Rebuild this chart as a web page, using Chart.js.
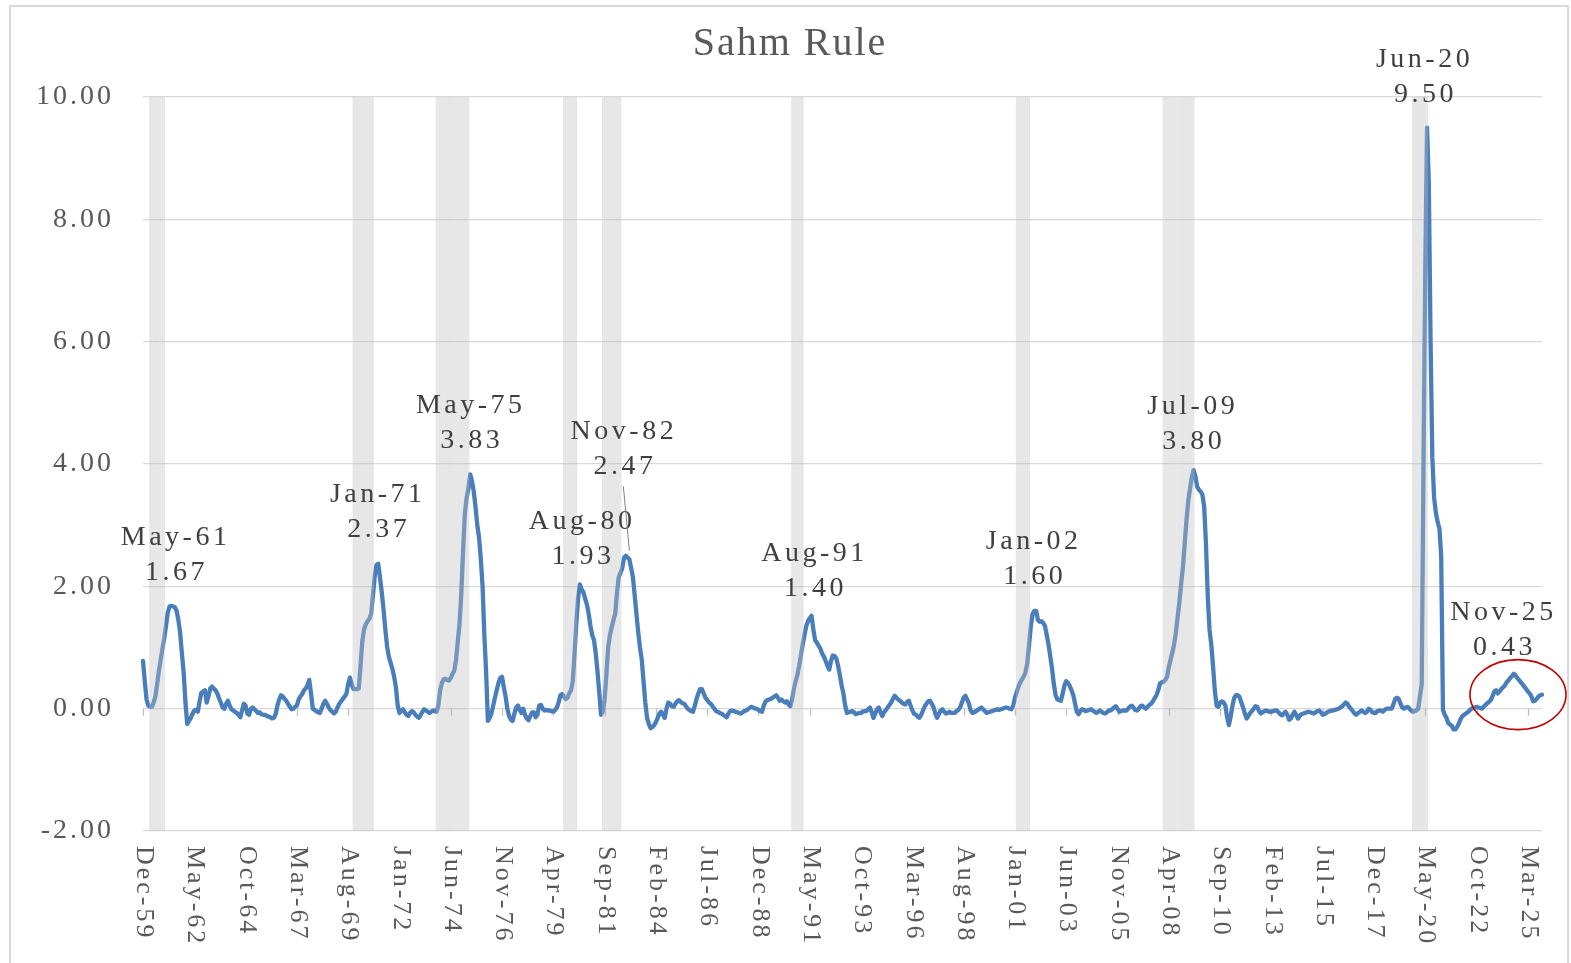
<!DOCTYPE html>
<html>
<head>
<meta charset="utf-8">
<script src="https://cdn.jsdelivr.net/npm/chart.js@4.4.1/dist/chart.umd.min.js"></script>
<style>
html,body{margin:0;padding:0;background:#ffffff;}
canvas{display:block;}
</style>
</head>
<body>
<canvas id="c" width="1571" height="963"></canvas>
<script>
// ---------------- DATA ----------------
const chartTitle = 'Sahm Rule';
const firstMonth = { year: 1959, month: 11 }; // Dec-59

// Monthly Sahm rule values, Dec-59 .. Nov-25 (one row per calendar year)
const sahmValues = [
  0.78,
  0.45, 0.15, 0.05, 0.03, 0.03, 0.10, 0.20, 0.40, 0.62, 0.80, 0.98, 1.15,
  1.35, 1.57, 1.67, 1.68, 1.67, 1.66, 1.60, 1.45, 1.24, 0.90, 0.59, 0.10,
  -0.25, -0.20, -0.15, -0.08, -0.03, -0.02, -0.05, 0.12, 0.26, 0.28, 0.30, 0.10,
  0.20, 0.33, 0.36, 0.33, 0.30, 0.25, 0.17, 0.10, 0.02, 0.00, 0.08, 0.13,
  0.05, -0.01, -0.03, -0.05, -0.07, -0.10, -0.14, -0.03, 0.08, 0.05, -0.08, -0.10,
  0.00, 0.02, -0.01, -0.04, -0.07, -0.06, -0.09, -0.10, -0.10, -0.12, -0.13, -0.14,
  -0.16, -0.15, -0.09, 0.05, 0.15, 0.22, 0.20, 0.16, 0.13, 0.08, 0.03, -0.01,
  0.00, 0.03, 0.05, 0.15, 0.20, 0.24, 0.30, 0.33, 0.38, 0.47, 0.25, 0.00,
  -0.02, -0.04, -0.06, -0.07, 0.00, 0.08, 0.13, 0.08, 0.02, -0.02, -0.05, -0.08,
  -0.05, 0.02, 0.08, 0.12, 0.16, 0.20, 0.24, 0.40, 0.51, 0.40, 0.32, 0.32,
  0.32, 0.33, 0.70, 1.10, 1.30, 1.38, 1.43, 1.47, 1.55, 1.85, 2.15, 2.35,
  2.37, 2.15, 1.90, 1.62, 1.30, 1.02, 0.85, 0.75, 0.65, 0.52, 0.35, 0.05,
  -0.07, -0.03, -0.01, -0.06, -0.10, -0.12, -0.07, -0.04, -0.06, -0.10, -0.13, -0.15,
  -0.10, -0.05, -0.01, -0.03, -0.05, -0.07, -0.05, -0.03, -0.04, -0.05, 0.05, 0.30,
  0.42, 0.48, 0.49, 0.47, 0.46, 0.50, 0.57, 0.62, 0.80, 1.10, 1.40, 1.90,
  2.60, 3.20, 3.45, 3.60, 3.83, 3.72, 3.55, 3.30, 3.00, 2.80, 2.45, 2.00,
  1.20, 0.60, -0.20, -0.15, -0.08, 0.05, 0.18, 0.30, 0.42, 0.50, 0.52, 0.35,
  0.20, 0.00, -0.12, -0.18, -0.20, -0.08, 0.02, 0.05, -0.02, -0.07, 0.00, -0.10,
  -0.16, -0.19, -0.12, -0.06, -0.06, -0.14, -0.10, 0.05, 0.06, 0.00, -0.03, -0.02,
  -0.03, -0.03, -0.04, -0.05, -0.02, 0.02, 0.10, 0.22, 0.24, 0.20, 0.16, 0.18,
  0.25, 0.30, 0.45, 0.90, 1.40, 1.80, 2.03, 1.95, 1.90, 1.80, 1.70, 1.55,
  1.35, 1.20, 1.12, 0.90, 0.60, 0.25, -0.10, -0.05, 0.15, 0.55, 1.00, 1.20,
  1.33, 1.45, 1.55, 1.90, 2.15, 2.22, 2.30, 2.47, 2.50, 2.47, 2.44, 2.30,
  2.15, 1.85, 1.55, 1.25, 1.00, 0.80, 0.45, 0.10, -0.15, -0.25, -0.32, -0.30,
  -0.27, -0.22, -0.15, -0.08, -0.05, -0.10, -0.15, 0.00, 0.10, 0.08, 0.04, 0.03,
  0.08, 0.12, 0.14, 0.11, 0.09, 0.08, 0.04, 0.00, -0.02, -0.04, -0.05, 0.05,
  0.16, 0.25, 0.32, 0.32, 0.25, 0.18, 0.14, 0.10, 0.08, 0.04, 0.00, -0.04,
  -0.05, -0.07, -0.08, -0.10, -0.12, -0.14, -0.08, -0.04, -0.03, -0.04, -0.05, -0.06,
  -0.07, -0.08, -0.06, -0.04, -0.03, -0.01, 0.01, 0.03, 0.02, 0.00, 0.00, -0.02,
  -0.04, -0.05, 0.05, 0.12, 0.14, 0.15, 0.16, 0.18, 0.20, 0.22, 0.18, 0.13,
  0.15, 0.12, 0.10, 0.12, 0.07, 0.04, 0.15, 0.32, 0.45, 0.55, 0.70, 0.88,
  1.05, 1.20, 1.35, 1.43, 1.48, 1.52, 1.30, 1.12, 1.08, 1.03, 0.98, 0.90,
  0.85, 0.78, 0.70, 0.64, 0.78, 0.87, 0.86, 0.82, 0.70, 0.55, 0.38, 0.25,
  0.05, -0.07, -0.06, -0.05, -0.04, -0.06, -0.09, -0.08, -0.07, -0.07, -0.05, -0.04,
  -0.04, -0.01, 0.02, -0.06, -0.15, -0.08, -0.01, 0.02, -0.06, -0.12, -0.06, -0.02,
  0.02, 0.06, 0.10, 0.16, 0.21, 0.18, 0.15, 0.13, 0.10, 0.08, 0.07, 0.11,
  0.13, 0.05, -0.03, -0.08, -0.10, -0.13, -0.15, -0.10, -0.03, 0.04, 0.08, 0.12,
  0.13, 0.08, 0.02, -0.08, -0.15, -0.09, -0.03, -0.01, -0.05, -0.08, -0.07, -0.05,
  -0.07, -0.07, -0.07, -0.04, -0.02, 0.02, 0.10, 0.18, 0.21, 0.15, 0.08, -0.03,
  -0.07, -0.06, -0.04, -0.02, 0.00, 0.02, -0.01, -0.04, -0.07, -0.06, -0.05, -0.04,
  -0.03, -0.02, -0.01, -0.02, -0.01, 0.00, 0.01, 0.02, 0.01, 0.00, -0.01, 0.05,
  0.18, 0.27, 0.36, 0.43, 0.48, 0.53, 0.60, 0.75, 1.05, 1.35, 1.55, 1.60,
  1.60, 1.45, 1.42, 1.43, 1.40, 1.35, 1.20, 1.05, 0.85, 0.65, 0.40, 0.22,
  0.15, 0.14, 0.13, 0.25, 0.38, 0.45, 0.42, 0.37, 0.30, 0.22, 0.08, -0.05,
  -0.09, -0.04, -0.01, -0.02, -0.04, -0.03, -0.02, -0.01, -0.03, -0.05, -0.07, -0.05,
  -0.03, -0.05, -0.07, -0.08, -0.06, -0.03, -0.03, -0.01, 0.02, 0.04, 0.00, -0.05,
  -0.04, -0.03, -0.03, -0.03, 0.00, 0.03, 0.05, 0.02, -0.02, -0.03, 0.00, 0.04,
  0.05, 0.02, 0.00, 0.03, 0.06, 0.08, 0.12, 0.17, 0.22, 0.30, 0.41, 0.43,
  0.44, 0.47, 0.52, 0.68, 0.80, 0.92, 1.05, 1.25, 1.50, 1.75, 2.05, 2.32,
  2.70, 3.08, 3.40, 3.60, 3.78, 3.90, 3.80, 3.63, 3.58, 3.55, 3.50, 3.30,
  2.70, 1.85, 1.30, 1.05, 0.70, 0.30, 0.05, 0.03, 0.10, 0.12, 0.10, 0.05,
  -0.15, -0.27, -0.12, 0.05, 0.18, 0.22, 0.22, 0.19, 0.10, 0.02, -0.08, -0.16,
  -0.12, -0.07, -0.04, 0.00, 0.04, 0.03, -0.04, -0.08, -0.06, -0.04, -0.03, -0.04,
  -0.05, -0.05, -0.04, -0.03, -0.03, -0.06, -0.09, -0.11, -0.08, -0.05, -0.10, -0.18,
  -0.16, -0.10, -0.05, -0.10, -0.16, -0.12, -0.09, -0.08, -0.07, -0.06, -0.05, -0.06,
  -0.07, -0.08, -0.06, -0.04, -0.03, -0.06, -0.10, -0.09, -0.07, -0.05, -0.04, -0.03,
  -0.03, -0.02, -0.01, 0.00, 0.02, 0.04, 0.07, 0.10, 0.08, 0.03, 0.00, -0.04,
  -0.08, -0.10, -0.07, -0.05, -0.03, -0.05, -0.07, -0.05, 0.00, -0.02, -0.06, -0.07,
  -0.07, -0.04, -0.03, -0.03, -0.05, -0.02, 0.00, 0.00, 0.00, 0.00, 0.07, 0.16,
  0.18, 0.16, 0.08, 0.02, 0.00, 0.02, 0.03, 0.00, -0.03, -0.05, -0.04, -0.03,
  0.00, 0.20, 0.40, 4.00, 7.20, 9.50, 8.60, 6.00, 4.10, 3.45, 3.20, 3.05,
  2.95, 2.50, -0.02, -0.10, -0.15, -0.24, -0.26, -0.28, -0.34, -0.34, -0.30, -0.24,
  -0.17, -0.12, -0.10, -0.08, -0.06, -0.03, 0.00, 0.01, 0.02, 0.03, 0.02, 0.01,
  0.00, 0.03, 0.06, 0.09, 0.11, 0.14, 0.20, 0.28, 0.30, 0.25, 0.28, 0.32,
  0.35, 0.38, 0.43, 0.46, 0.50, 0.53, 0.57, 0.55, 0.50, 0.47, 0.43, 0.40,
  0.36, 0.32, 0.28, 0.25, 0.20, 0.12, 0.13, 0.16, 0.20, 0.22, 0.23
];

const tickLabels = ['Dec-59','May-62','Oct-64','Mar-67','Aug-69','Jan-72','Jun-74','Nov-76',
  'Apr-79','Sep-81','Feb-84','Jul-86','Dec-88','May-91','Oct-93','Mar-96','Aug-98','Jan-01',
  'Jun-03','Nov-05','Apr-08','Sep-10','Feb-13','Jul-15','Dec-17','May-20','Oct-22','Mar-25'];

// shaded periods (as drawn in the picture)
const shadeStarts = ['Apr-60','Nov-69','Oct-73','Oct-79','Aug-81','Jul-90','Feb-01','Jan-08','Oct-19'];
const shadeEnds   = ['Dec-60','Oct-70','Apr-75','May-80','Jun-82','Jan-91','Sep-01','Jun-09','Jun-20'];

// annotated points
const noteMonths = ['May-61','Jan-71','May-75','Aug-80','Nov-82','Aug-91','Jan-02','Jul-09','Jun-20','Nov-25'];
const noteValues = ['1.67','2.37','3.83','1.93','2.47','1.40','1.60','3.80','9.50','0.43'];

const yMin = -2, yMax = 10, yStep = 2;

// ---------------- STYLE ----------------
const SERIF = '"Liberation Serif", "Times New Roman", serif';
const noteOffsets = [ // label placement relative to the point (style only)
  {dx: 1, dy: -34}, {dx: -2, dy: -34}, {dx: -1, dy: -34}, {dx: -1, dy: -34},
  {dx: -7, dy: -91, leader: true}, {dx: -2, dy: -34}, {dx: -4, dy: -34},
  {dx: -4, dy: -35}, {dx: -4, dy: -33}, {dx: -40, dy: -35, ring: true}
];

// ---------------- BUILD ----------------
const MON = ['Jan','Feb','Mar','Apr','May','Jun','Jul','Aug','Sep','Oct','Nov','Dec'];
const categories = sahmValues.map((_, i) => {
  const m = firstMonth.month + i;
  const y = firstMonth.year + Math.floor(m / 12);
  return MON[m % 12] + '-' + String(y % 100).padStart(2, '0');
});
const shadeRanges = shadeStarts.map((s, k) => [categories.indexOf(s), categories.indexOf(shadeEnds[k])]);
const shadeData = categories.map((_, i) =>
  shadeRanges.some(r => i >= r[0] && i <= r[1]) ? [yMin, yMax] : null);

const decorations = {
  id: 'decorations',
  beforeDraw(chart) {
    chart.ctx.letterSpacing = '3px';
  },
  beforeDatasetsDraw(chart) {
    const {ctx, scales: {x, y}} = chart;
    const y0 = y.getPixelForValue(0);
    ctx.save();
    ctx.strokeStyle = '#bfbfbf';
    ctx.lineWidth = 1.3;
    tickLabels.forEach(l => {
      const px = Math.round(x.getPixelForValue(categories.indexOf(l))) + 0.5;
      ctx.beginPath(); ctx.moveTo(px, y0); ctx.lineTo(px, y0 + 7); ctx.stroke();
    });
    ctx.restore();
  },
  afterDraw(chart) {
    const {ctx, scales: {x, y}, chartArea} = chart;
    ctx.save();
    // x tick labels, rotated clockwise
    ctx.fillStyle = '#595959';
    ctx.font = '26px ' + SERIF;
    ctx.letterSpacing = '3px';
    ctx.textAlign = 'left';
    ctx.textBaseline = 'middle';
    tickLabels.forEach(l => {
      const px = x.getPixelForValue(categories.indexOf(l));
      ctx.save();
      ctx.translate(px + 1, chartArea.bottom + 15);
      ctx.rotate(Math.PI / 2);
      ctx.fillText(l, 0, 0);
      ctx.restore();
    });
    // annotations
    ctx.fillStyle = '#404040';
    ctx.font = '28px ' + SERIF;
    ctx.letterSpacing = '3.5px';
    ctx.textAlign = 'center';
    ctx.textBaseline = 'middle';
    noteMonths.forEach((m, k) => {
      const idx = categories.indexOf(m);
      const px = x.getPixelForValue(idx);
      const py = y.getPixelForValue(parseFloat(noteValues[k]));
      const o = noteOffsets[k];
      ctx.fillText(m, px + o.dx + 1.5, py + o.dy - 35);
      ctx.fillText(noteValues[k], px + o.dx + 2.5, py + o.dy);
      if (o.leader) {
        ctx.save();
        ctx.strokeStyle = '#808080';
        ctx.lineWidth = 1;
        ctx.beginPath();
        ctx.moveTo(px - 6, py + o.dy + 20);
        ctx.lineTo(px, py - 7);
        ctx.stroke();
        ctx.restore();
      }
      if (o.ring) {
        const lx = x.getPixelForValue(sahmValues.length - 1);
        const ly = y.getPixelForValue(sahmValues[sahmValues.length - 1]);
        ctx.save();
        ctx.strokeStyle = '#c00000';
        ctx.lineWidth = 1.6;
        ctx.beginPath();
        ctx.ellipse(lx - 24, ly, 48, 35, 0, 0, Math.PI * 2);
        ctx.stroke();
        ctx.restore();
      }
    });
    // title
    ctx.fillStyle = '#595959';
    ctx.font = '40px ' + SERIF;
    ctx.letterSpacing = '2px';
    ctx.textAlign = 'center';
    ctx.textBaseline = 'middle';
    ctx.fillText(chartTitle, 790, 44);
    // outer frame
    ctx.letterSpacing = '0px';
    ctx.strokeStyle = '#d9d9d9';
    ctx.lineWidth = 2;
    ctx.strokeRect(10, 6, 1558, 1000);
    ctx.restore();
  }
};

new Chart(document.getElementById('c'), {
  type: 'line',
  data: {
    labels: categories,
    datasets: [
      {
        type: 'bar',
        label: 'Recession',
        data: shadeData,
        backgroundColor: 'rgba(191,191,191,0.39)',
        borderWidth: 0,
        barPercentage: 1,
        categoryPercentage: 1,
        inflateAmount: 0,
        order: 0
      },
      {
        type: 'line',
        label: 'Sahm Rule',
        data: sahmValues,
        borderColor: '#4a7ebb',
        borderWidth: 4.3,
        pointRadius: 0,
        tension: 0,
        borderJoinStyle: 'round',
        borderCapStyle: 'round',
        order: 1
      }
    ]
  },
  options: {
    responsive: false,
    devicePixelRatio: 1,
    animation: false,
    events: [],
    layout: { padding: { top: 97, right: 29, bottom: 0, left: 0 } },
    plugins: { legend: { display: false }, title: { display: false }, tooltip: { enabled: false } },
    scales: {
      x: {
        type: 'category',
        offset: false,
        grid: { display: false, offset: false },
        border: { display: false },
        ticks: { display: false },
        afterFit(s) { s.height = 132; }
      },
      y: {
        min: yMin,
        max: yMax,
        border: { display: false },
        grid: { color: '#d9d9d9', lineWidth: 1.3, drawTicks: false },
        ticks: {
          stepSize: yStep,
          padding: 29,
          color: '#595959',
          font: { family: SERIF, size: 28 },
          callback: v => v.toFixed(2)
        },
        afterFit(s) { s.width = 143; }
      }
    }
  },
  plugins: [decorations]
});
</script>
</body>
</html>
